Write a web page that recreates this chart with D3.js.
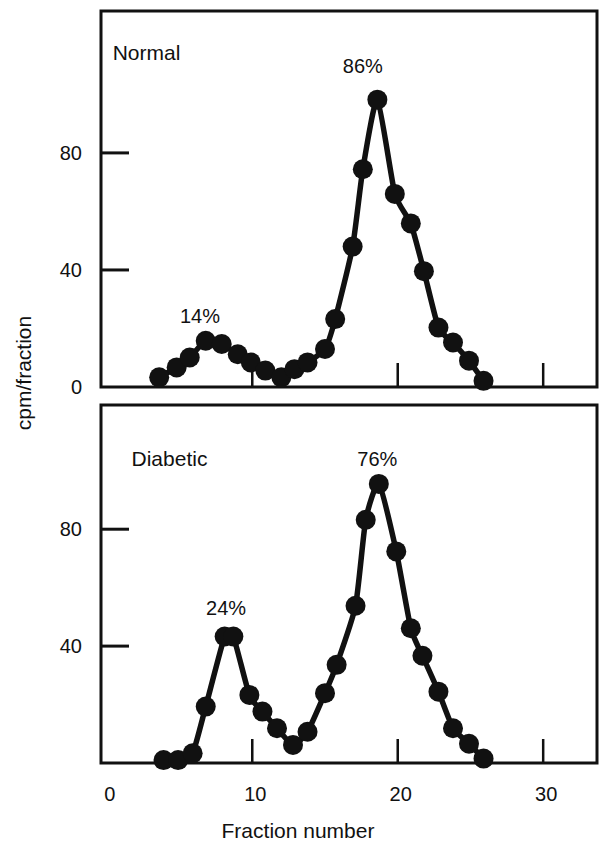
<!DOCTYPE html>
<html>
<head>
<meta charset="utf-8">
<script src="https://cdn.jsdelivr.net/npm/d3@7"></script>
<style>
  html, body { margin: 0; padding: 0; background: #fff; }
  svg { display: block; }
  text { font-family: "Liberation Sans", Arial, Helvetica, sans-serif; fill: #111; }
</style>
</head>
<body>
<div id="chart"></div>
<script>
// values
var normalFraction = [3.6, 4.8, 5.7, 6.8, 7.9, 9.0, 9.9, 10.9, 12.0, 12.9, 13.8, 15.0, 15.7, 16.9, 17.6, 18.6, 19.8, 20.9, 21.8, 22.8, 23.8, 24.9, 25.9];
var normalCpm = [3.3, 6.7, 10.1, 15.8, 14.7, 11.2, 8.4, 5.6, 3.3, 6.1, 8.4, 13.0, 23.2, 48.0, 74.4, 98.2, 66.0, 55.9, 39.6, 20.3, 15.2, 9.0, 2.1];

var diabeticFraction = [3.9, 4.9, 5.9, 6.8, 8.1, 8.7, 9.8, 10.7, 11.7, 12.8, 13.8, 15.0, 15.8, 17.1, 17.8, 18.7, 19.9, 20.9, 21.7, 22.8, 23.8, 24.9, 25.9];
var diabeticCpm = [1.0, 1.0, 3.3, 19.3, 43.3, 43.3, 23.3, 17.6, 11.9, 6.2, 10.7, 23.9, 33.6, 53.8, 83.2, 95.5, 72.4, 46.1, 36.7, 24.4, 11.9, 6.6, 1.5];

var xTicks = [10, 20, 30];
var xTickLabels = ["0", "10", "20", "30"];
var normalYTicks = [40, 80];
var normalYLabels = [0, 40, 80];
var diabeticYTicks = [40, 80];
var diabeticYLabels = [40, 80];

// percent annotations (fraction, cpm of text baseline)
var normalNotes = [["14%", 6.4, 21.9], ["86%", 17.6, 107.3]];
var diabeticNotes = [["24%", 8.2, 50.6], ["76%", 18.6, 101.6]];

var W = 599, H = 842;

var svg = d3.select("#chart")
    .append("svg")
    .attr("width", W)
    .attr("height", H);

var x = d3.scaleLinear()
    .domain([-0.4, 33.7])
    .range([101, 597]);

var yTop = d3.scaleLinear()
    .domain([0, 128.5])
    .range([387, 11]);

var yBottom = d3.scaleLinear()
    .domain([0, 122.5])
    .range([763, 405]);

function drawPanel(y, fractions, cpm, yTicks, yLabels, name, nameAt, notes) {
    var g = svg.append("g");
    var x0 = x.range()[0], x1 = x.range()[1];
    var y0 = y.range()[0], y1 = y.range()[1];

    // frame
    g.append("rect")
        .attr("x", x0)
        .attr("y", y1)
        .attr("width", x1 - x0)
        .attr("height", y0 - y1)
        .style("fill", "none")
        .style("stroke", "#111")
        .style("stroke-width", 3);

    // y ticks pointing in
    g.selectAll(".yt")
        .data(yTicks)
        .enter().append("line")
        .attr("x1", x0)
        .attr("x2", x0 + 28)
        .attr("y1", function (d) { return y(d); })
        .attr("y2", function (d) { return y(d); })
        .style("stroke", "#111")
        .style("stroke-width", 3);

    g.selectAll(".yl")
        .data(yLabels)
        .enter().append("text")
        .attr("x", x0 - 19)
        .attr("y", function (d) { return y(d); })
        .attr("dy", "0.36em")
        .attr("text-anchor", "end")
        .attr("font-size", 20)
        .text(function (d) { return d; });

    // x ticks pointing up
    g.selectAll(".xt")
        .data(xTicks)
        .enter().append("line")
        .attr("x1", function (d) { return x(d); })
        .attr("x2", function (d) { return x(d); })
        .attr("y1", y0)
        .attr("y2", y0 - 24)
        .style("stroke", "#111")
        .style("stroke-width", 2.5);

    var pts = fractions.map(function (f, i) { return [f, cpm[i]]; });

    var line = d3.line()
        .x(function (d) { return x(d[0]); })
        .y(function (d) { return y(d[1]); })
        .curve(d3.curveCardinal.tension(0.45));

    g.append("path")
        .attr("d", line(pts))
        .style("fill", "none")
        .style("stroke", "#111")
        .style("stroke-width", 5.5)
        .style("stroke-linejoin", "round");

    g.selectAll(".pt")
        .data(pts)
        .enter().append("circle")
        .attr("cx", function (d) { return x(d[0]); })
        .attr("cy", function (d) { return y(d[1]); })
        .attr("r", 10)
        .style("fill", "#111");

    g.append("text")
        .attr("x", x(nameAt[0]))
        .attr("y", y(nameAt[1]))
        .attr("font-size", 21)
        .text(name);

    g.selectAll(".note")
        .data(notes)
        .enter().append("text")
        .attr("x", function (d) { return x(d[1]); })
        .attr("y", function (d) { return y(d[2]); })
        .attr("text-anchor", "middle")
        .attr("font-size", 20)
        .text(function (d) { return d[0]; });
}

drawPanel(yTop, normalFraction, normalCpm, normalYTicks, normalYLabels, "Normal", [0.4, 111.6], normalNotes);
drawPanel(yBottom, diabeticFraction, diabeticCpm, diabeticYTicks, diabeticYLabels, "Diabetic", [1.7, 101.6], diabeticNotes);

// x tick labels under the bottom panel
svg.selectAll(".xl")
    .data(xTickLabels)
    .enter().append("text")
    .attr("x", function (d) { return x(+d) + 3; })
    .attr("y", 801)
    .attr("text-anchor", "middle")
    .attr("font-size", 20)
    .text(function (d) { return d; });

svg.append("text")
    .attr("x", 298)
    .attr("y", 838)
    .attr("text-anchor", "middle")
    .attr("font-size", 21)
    .text("Fraction number");

svg.append("text")
    .attr("transform", "translate(31,373) rotate(-90)")
    .attr("text-anchor", "middle")
    .attr("font-size", 21)
    .text("cpm/fraction");
</script>
</body>
</html>
